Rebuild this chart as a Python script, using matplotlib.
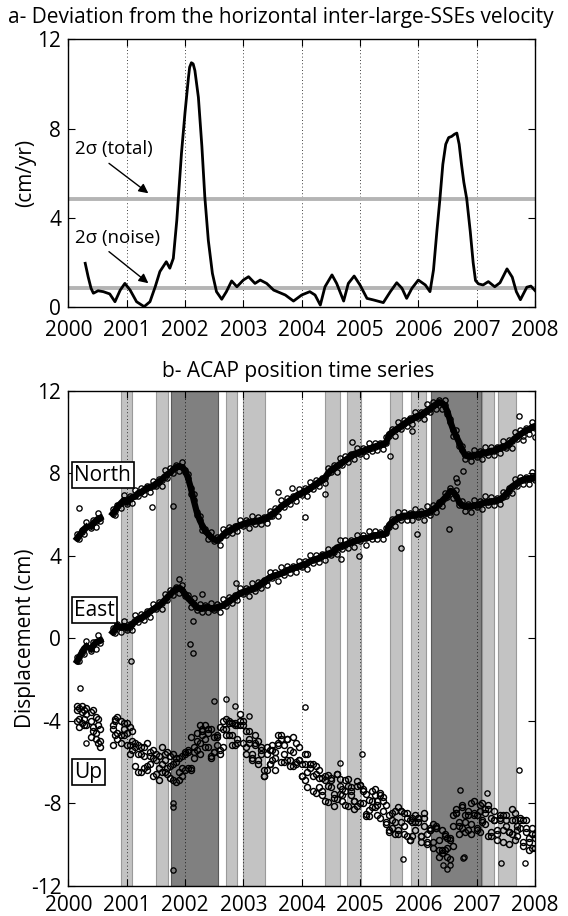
import numpy as np
import matplotlib
matplotlib.use('Agg')
import matplotlib.pyplot as plt

plt.rcParams['font.family'] = ['Open Sans', 'DejaVu Sans']
plt.rcParams['axes.unicode_minus'] = False

# ---------------- panel a data ----------------
dev_t = [2000.29, 2000.34, 2000.39, 2000.43, 2000.51, 2000.60, 2000.71, 2000.80, 2000.89, 2000.97,
         2001.06, 2001.17, 2001.30, 2001.40, 2001.49, 2001.57, 2001.68, 2001.74, 2001.80, 2001.86,
         2001.90, 2001.94, 2002.00, 2002.06, 2002.08, 2002.11, 2002.14, 2002.17, 2002.23, 2002.29,
         2002.34, 2002.40, 2002.47, 2002.54, 2002.63, 2002.71, 2002.80, 2002.89, 2003.00, 2003.09,
         2003.20, 2003.29, 2003.40, 2003.52, 2003.63, 2003.72, 2003.86, 2004.00, 2004.14, 2004.23,
         2004.32, 2004.40, 2004.52, 2004.60, 2004.72, 2004.80, 2004.90, 2005.00, 2005.12, 2005.23,
         2005.40, 2005.52, 2005.63, 2005.72, 2005.80, 2005.89, 2006.00, 2006.12, 2006.20, 2006.26,
         2006.32, 2006.37, 2006.42, 2006.47, 2006.52, 2006.57, 2006.62, 2006.66, 2006.70, 2006.74,
         2006.78, 2006.83, 2006.89, 2006.94, 2006.98, 2007.03, 2007.11, 2007.20, 2007.31, 2007.40,
         2007.52, 2007.61, 2007.68, 2007.75, 2007.86, 2007.93, 2008.00]
dev_v = [1.97, 1.37, 0.85, 0.63, 0.74, 0.70, 0.60, 0.25, 0.77, 1.07,
         0.77, 0.25, 0.03, 0.25, 0.92, 1.60, 2.04, 1.75, 2.19, 3.90,
         5.40, 6.90, 8.70, 10.30, 10.75, 10.95, 10.90, 10.60, 9.40, 7.20,
         4.95, 3.00, 1.52, 0.70, 0.36, 0.70, 1.18, 0.92, 1.22, 1.37,
         1.07, 1.22, 1.07, 0.77, 0.65, 0.55, 0.28, 0.55, 0.70, 0.55,
         0.10, 0.92, 1.45, 1.07, 0.28, 1.07, 1.40, 1.00, 0.40, 0.33,
         0.21, 0.70, 1.10, 0.85, 0.40, 0.85, 1.22, 1.00, 0.70, 1.67,
         3.46, 4.85, 6.40, 7.30, 7.60, 7.65, 7.75, 7.80, 7.30, 6.40,
         5.60, 4.85, 3.40, 2.00, 1.20, 1.05, 1.00, 1.15, 0.92, 1.10,
         1.72, 1.35, 0.70, 0.34, 0.90, 0.95, 0.75]
sigma_total = 4.85
sigma_noise = 0.86

# ---------------- panel b data ----------------
t_early = [2000.15, 2000.19, 2000.23, 2000.27, 2000.31, 2000.39, 2000.43, 2000.47, 2000.51, 2000.55,
           2000.76, 2000.80, 2000.84]
t_main = [2000.90, 2000.95,
    2001.00, 2001.05, 2001.10, 2001.15, 2001.20, 2001.25, 2001.30, 2001.35, 2001.40, 2001.45,
    2001.50, 2001.55, 2001.60, 2001.65, 2001.70, 2001.75, 2001.80, 2001.85, 2001.90, 2001.95,
    2002.00, 2002.05, 2002.10, 2002.15, 2002.20, 2002.25, 2002.30, 2002.35, 2002.40, 2002.45,
    2002.50, 2002.55, 2002.60, 2002.65, 2002.70, 2002.75, 2002.80, 2002.85, 2002.90, 2002.95,
    2003.00, 2003.05, 2003.10, 2003.15, 2003.20, 2003.25, 2003.30, 2003.35, 2003.40, 2003.45,
    2003.50, 2003.55, 2003.60, 2003.65, 2003.70, 2003.75, 2003.80, 2003.85, 2003.90, 2003.95,
    2004.00, 2004.05, 2004.10, 2004.15, 2004.20, 2004.25, 2004.30, 2004.35, 2004.40, 2004.45,
    2004.50, 2004.55, 2004.60, 2004.65, 2004.70, 2004.75, 2004.80, 2004.85, 2004.90, 2004.95,
    2005.00, 2005.05, 2005.10, 2005.15, 2005.20, 2005.25, 2005.30, 2005.35, 2005.40, 2005.45,
    2005.50, 2005.55, 2005.60, 2005.65, 2005.70, 2005.75, 2005.80, 2005.85, 2005.90, 2005.95,
    2006.00, 2006.05, 2006.10, 2006.15, 2006.20, 2006.25, 2006.30, 2006.35, 2006.40, 2006.45,
    2006.50, 2006.55, 2006.60, 2006.65, 2006.70, 2006.75, 2006.80, 2006.85, 2006.90, 2006.95,
    2007.00, 2007.05, 2007.10, 2007.15, 2007.20, 2007.25, 2007.30, 2007.35, 2007.40, 2007.45,
    2007.50, 2007.55, 2007.60, 2007.65, 2007.70, 2007.75, 2007.80, 2007.85, 2007.90, 2007.95,
    2008.00]

north = [4.85, 5.0, 5.15, 5.3, 5.4, 5.45, 5.6, 5.7, 5.8, 5.85, 6.05, 6.2, 6.35,
    6.55, 6.7,
    6.6, 6.75, 6.85, 6.9, 7.05, 7.1, 7.2, 7.3, 7.35, 7.4, 7.5, 7.6, 7.7, 7.85, 7.95, 8.05, 8.2, 8.3, 8.35, 8.3,
    8.15, 7.8, 7.3, 6.7, 6.15, 5.75, 5.45, 5.2, 5.05, 4.9, 4.8, 4.75, 4.85, 5.0, 5.15, 5.2, 5.3, 5.35, 5.45, 5.5,
    5.55, 5.6, 5.65, 5.65, 5.7, 5.7, 5.75, 5.8, 5.85, 5.95, 6.05, 6.15, 6.25, 6.4, 6.5, 6.6, 6.7, 6.8, 6.9, 7.0,
    7.05, 7.15, 7.2, 7.3, 7.4, 7.5, 7.6, 7.7, 7.8, 8.0, 8.15, 8.25, 8.35, 8.45, 8.55, 8.65, 8.75, 8.85, 8.95, 9.0,
    9.05, 9.1, 9.15, 9.2, 9.25, 9.3, 9.35, 9.4, 9.45, 9.5, 9.9, 10.0, 10.1, 10.2, 10.3, 10.4, 10.5, 10.6, 10.65, 10.75,
    10.8, 10.85, 10.95, 11.05, 11.15, 11.25, 11.35, 11.45, 11.4, 11.3, 11.0, 10.5, 10.1, 9.8, 9.5, 9.15, 8.9, 8.85, 8.85, 8.9,
    8.9, 8.95, 9.0, 9.0, 9.05, 9.1, 9.1, 9.2, 9.25, 9.3, 9.35, 9.45, 9.55, 9.7, 9.8, 9.9, 10.0, 10.1, 10.15, 10.25,
    10.3]
north_b = [5.05, 4.8, 5.25, 5.05, 5.65, 5.35, 5.75, 5.4, 6.1, 5.7, 6.25, 6.0, 6.45,
    6.3, 6.95,
    6.5, 6.9, 6.55, 7.2, 6.9, 7.3, 7.0, 7.4, 7.1, 7.65, 7.4, 7.75, 7.4, 8.15, 7.8, 8.25, 8.0, 8.4, 8.1, 8.55,
    8.05, 7.95, 7.0, 7.0, 6.0, 5.95, 5.25, 5.3, 4.8, 5.15, 4.7, 4.9, 4.55, 5.3, 5.0, 5.4, 5.1, 5.45, 5.2, 5.75,
    5.45, 5.75, 5.35, 5.95, 5.55, 5.9, 5.55, 5.9, 5.6, 6.2, 5.95, 6.3, 5.95, 6.7, 6.35, 6.8, 6.5, 6.9, 6.65, 7.25,
    6.95, 7.3, 6.9, 7.6, 7.25, 7.7, 7.4, 7.8, 7.55, 8.25, 8.05, 8.4, 8.05, 8.75, 8.4, 8.85, 8.55, 8.95, 8.7, 9.25,
    8.95, 9.25, 8.85, 9.5, 9.1, 9.5, 9.15, 9.5, 9.2, 9.75, 9.8, 10.15, 9.8, 10.5, 10.15, 10.6, 10.3, 10.7, 10.4, 11.0,
    10.7, 11.0, 10.65, 11.35, 11.0, 11.45, 11.15, 11.55, 11.15, 11.55, 10.9, 10.65, 9.8, 10.1, 9.35, 9.35, 8.7, 8.95, 8.6, 9.15,
    8.8, 9.1, 8.7, 9.3, 8.9, 9.3, 8.9, 9.3, 9.0, 9.55, 9.25, 9.6, 9.25, 10.0, 9.65, 10.1, 9.8, 10.2, 9.9, 10.5,
    10.2]

east = [-1.1, -0.9, -0.7, -0.5, -0.4, -0.5, -0.35, -0.2, -0.15, -0.1, 0.3, 0.45, 0.6,
    0.55, 0.6,
    0.5, 0.55, 0.7, 0.85, 0.95, 1.0, 1.1, 1.2, 1.3, 1.4, 1.5, 1.6, 1.7, 1.85, 2.0, 2.15, 2.3, 2.4, 2.45, 2.35,
    2.15, 1.95, 1.8, 1.65, 1.5, 1.45, 1.45, 1.5, 1.5, 1.45, 1.45, 1.5, 1.55, 1.6, 1.7, 1.8, 1.9, 2.0, 2.1, 2.2,
    2.25, 2.3, 2.35, 2.4, 2.45, 2.55, 2.65, 2.75, 2.85, 2.95, 3.0, 3.05, 3.1, 3.15, 3.2, 3.3, 3.35, 3.4, 3.45, 3.5,
    3.55, 3.6, 3.65, 3.75, 3.8, 3.85, 3.9, 4.0, 4.05, 4.1, 4.15, 4.2, 4.4, 4.45, 4.5, 4.55, 4.6, 4.65, 4.7, 4.75,
    4.8, 4.85, 4.85, 4.9, 4.95, 5.0, 5.0, 5.05, 5.05, 5.1, 5.5, 5.65, 5.75, 5.85, 5.9, 5.95, 5.95, 6.0, 6.0, 6.0,
    6.0, 6.05, 6.05, 6.1, 6.15, 6.25, 6.35, 6.5, 6.65, 6.8, 6.95, 7.15, 7.1, 6.9, 6.6, 6.45, 6.4, 6.4, 6.4, 6.45,
    6.45, 6.5, 6.55, 6.6, 6.6, 6.65, 6.65, 6.7, 6.75, 6.85, 7.0, 7.15, 7.35, 7.45, 7.55, 7.65, 7.7, 7.75, 7.75, 7.8,
    7.8]
east_b = [-0.9, -1.1, -0.6, -0.75, -0.15, -0.6, -0.2, -0.5, 0.15, -0.25, 0.5, 0.25, 0.7,
    0.3, 0.85,
    0.4, 0.7, 0.4, 1.15, 0.8, 1.2, 0.9, 1.3, 1.05, 1.65, 1.4, 1.75, 1.4, 2.15, 1.85, 2.35, 2.1, 2.5, 2.2, 2.6,
    2.05, 2.1, 1.5, 1.95, 1.35, 1.65, 1.25, 1.6, 1.25, 1.7, 1.35, 1.65, 1.25, 1.9, 1.55, 2.0, 1.7, 2.1, 1.85, 2.45,
    2.15, 2.45, 2.05, 2.7, 2.3, 2.75, 2.45, 2.85, 2.6, 3.2, 2.9, 3.2, 2.8, 3.45, 3.05, 3.5, 3.15, 3.5, 3.2, 3.75,
    3.45, 3.75, 3.35, 4.05, 3.65, 4.05, 3.7, 4.1, 3.8, 4.35, 4.05, 4.35, 4.1, 4.75, 4.35, 4.75, 4.4, 4.75, 4.45, 5.0,
    4.7, 5.0, 4.55, 5.2, 4.8, 5.2, 4.8, 5.15, 4.8, 5.35, 5.4, 5.8, 5.45, 6.15, 5.75, 6.15, 5.75, 6.1, 5.75, 6.25,
    5.9, 6.2, 5.75, 6.4, 6.0, 6.45, 6.15, 6.6, 6.4, 7.05, 6.85, 7.3, 6.8, 7.2, 6.45, 6.65, 6.2, 6.5, 6.15, 6.7,
    6.35, 6.65, 6.25, 6.9, 6.45, 6.85, 6.45, 6.8, 6.5, 7.1, 6.9, 7.3, 7.05, 7.75, 7.4, 7.85, 7.5, 7.85, 7.5, 8.05,
    7.7]

up_a = [-3.3, -3.9, -3.6, -4.2, -3.4, -4.0, -3.5, -4.9, -4.2, -4.4, -4.2, -4.7, -3.8,
    -4.0, -4.7,
    -4.1, -5.2, -5.0, -6.2, -5.6, -5.3, -6.3, -5.1, -6.1, -5.8, -6.6, -5.7, -6.1, -6.5, -5.5, -6.8, -6.1, -7.0, -5.8, -6.3,
    -5.6, -6.3, -4.8, -5.5, -5.0, -5.6, -4.4, -4.9, -5.3, -4.4, -5.5, -4.7, -5.6, -4.4, -4.7, -4.0, -4.7, -4.1, -5.1, -4.2,
    -5.1, -4.5, -5.1, -5.6, -4.7, -6.1, -5.6, -6.7, -5.6, -6.1, -5.2, -5.8, -5.1, -6.0, -5.2, -4.9, -5.9, -4.8, -6.0, -5.9,
    -6.7, -6.1, -7.2, -6.1, -6.7, -6.2, -7.2, -6.8, -7.9, -7.15, -6.8, -7.75, -6.6, -7.55, -7.3, -8.1, -7.15, -7.6, -7.9, -6.95,
    -7.1, -8.0, -7.55, -8.65, -7.9, -7.6, -8.6, -7.5, -8.4, -8.1, -9.4, -8.5, -8.9, -9.3, -8.4, -9.5, -8.7, -9.8, -8.7, -9.3,
    -8.7, -9.6, -8.5, -9.5, -9.3, -10.2, -9.2, -9.8, -10.3, -9.5, -10.6, -9.7, -10.1, -8.5, -8.9, -8.1, -8.9, -8.4, -9.5, -8.6,
    -9.3, -8.4, -8.8, -9.0, -8.1, -9.4, -8.8, -9.8, -8.7, -9.3, -8.6, -9.4, -8.8, -9.8, -9.1, -8.8, -9.9, -8.8, -9.7, -9.5,
    -9.5]
up_b = [-4.0, -3.4, -4.1, -3.5, -4.2, -4.8, -4.5, -3.8, -5.1, -5.0, -5.2, -3.9, -4.6,
    -4.7, -4.1,
    -5.2, -4.3, -5.4, -5.1, -6.5, -5.6, -5.3, -6.2, -5.5, -6.7, -5.9, -6.3, -5.3, -5.9, -6.6, -5.7, -6.9, -6.0, -6.5, -5.7,
    -6.4, -5.4, -6.3, -5.3, -5.4, -4.2, -4.5, -5.3, -4.4, -5.7, -4.8, -5.2, -4.3, -5.3, -3.9, -4.7, -4.1, -5.2, -4.2, -3.7,
    -4.2, -5.3, -4.5, -5.9, -5.2, -5.9, -5.3, -6.4, -5.3, -6.1, -5.4, -6.4, -5.2, -4.7, -5.6, -4.9, -6.2, -5.5, -6.1, -5.3,
    -6.7, -5.6, -6.5, -6.1, -7.4, -6.6, -6.4, -7.4, -6.7, -7.95, -7.2, -7.55, -6.6, -7.15, -7.9, -6.9, -8.15, -7.4, -7.9, -7.15,
    -8.0, -7.3, -8.55, -7.85, -8.2, -7.3, -7.9, -8.7, -7.7, -8.9, -8.6, -9.2, -8.4, -9.5, -8.4, -9.1, -8.5, -9.8, -8.9, -8.6,
    -8.9, -9.6, -8.7, -10.0, -9.3, -9.9, -9.1, -10.3, -9.3, -10.3, -9.7, -10.7, -9.1, -8.3, -9.1, -8.2, -9.4, -8.6, -9.0, -7.9,
    -9.2, -8.1, -8.9, -8.3, -9.6, -8.7, -8.4, -9.3, -8.6, -9.9, -9.1, -9.4, -8.3, -8.8, -9.6, -8.7, -10.1, -9.4, -9.9, -9.2,
    -10.2]
up_c = [-3.5, -4.3, -3.3, -3.9, -3.7, -3.6, -4.3, -4.6, -3.9, -5.3, -4.4, -4.0, -4.9,
    -5.1, -4.4,
    -4.6, -5.6, -4.5, -5.3, -5.2, -6.5, -5.7, -6.4, -5.7, -5.4, -5.6, -6.9, -6.5, -5.6, -6.3, -6.2, -5.6, -5.8, -6.9, -6.7,
    -5.5, -5.5, -6.4, -5.8, -4.6, -5.1, -4.7, -4.2, -4.6, -5.8, -5.5, -4.8, -5.4, -4.0, -4.4, -4.1, -5.2, -4.2, -4.9, -4.0,
    -4.0, -5.6, -4.9, -5.8, -5.1, -5.0, -5.4, -6.7, -6.4, -5.4, -5.9, -5.5, -4.7, -4.9, -6.0, -5.9, -5.4, -6.2, -5.1, -5.9,
    -6.1, -6.9, -5.6, -6.3, -6.1, -7.5, -6.8, -7.6, -6.9, -6.65, -6.9, -8.15, -7.8, -6.85, -7.6, -7.4, -6.85, -7.2, -8.3, -8.15,
    -7.1, -7.4, -8.65, -8.35, -7.4, -8.2, -8.1, -7.6, -7.9, -9.0, -9.3, -8.8, -9.5, -8.2, -8.9, -8.5, -9.6, -8.8, -9.6, -8.9,
    -8.7, -9.9, -9.1, -9.9, -9.2, -9.0, -9.2, -10.6, -10.4, -9.6, -10.2, -9.8, -8.6, -8.5, -9.5, -9.2, -8.6, -9.3, -8.0, -8.5,
    -8.6, -9.4, -8.0, -8.5, -8.3, -9.6, -8.8, -9.5, -8.8, -8.6, -8.8, -10.0, -9.5, -8.5, -9.3, -9.2, -8.8, -9.2, -10.3, -10.2,
    -9.7]

north_out_t = [2000.18, 2001.43, 2001.80, 2003.60, 2003.83, 2004.05, 2004.40, 2004.83, 2004.86, 2005.52, 2005.90, 2006.77, 2007.73, 2007.80, 2008.00]
north_out_v = [6.3, 6.35, 6.42, 7.1, 7.3, 5.9, 7.0, 8.9, 9.53, 8.86, 10.07, 8.13, 10.78, 9.6, 9.75]
east_out_t = [2001.07, 2001.89, 2002.09, 2002.13, 2002.13, 2002.30, 2002.87, 2004.67, 2004.98, 2005.71, 2005.97, 2006.52, 2006.65, 2006.66]
east_out_v = [-1.1, 2.88, -0.29, -0.74, 0.86, 2.14, 2.69, 3.84, 4.0, 4.4, 5.06, 5.3, 7.8, 7.6]
up_out_t = [2000.20, 2000.30, 2001.80, 2001.80, 2001.80, 2002.50, 2002.70, 2002.85, 2003.09, 2004.05, 2004.66, 2005.03,
            2005.73, 2006.43, 2006.50, 2006.55, 2006.71, 2006.77, 2006.79, 2007.18, 2007.41, 2007.73, 2007.83]
up_out_v = [-2.4, -5.1, -8.0, -8.2, -11.25, -3.04, -2.93, -3.3, -3.75, -3.33, -6.05, -5.6,
            -10.7, -11.0, -11.2, -11.0, -7.35, -10.67, -10.6, -7.5, -10.9, -6.41, -10.9]

light_bands = [(2000.90, 2001.09), (2001.50, 2001.715), (2002.71, 2002.90), (2003.00, 2003.37),
               (2004.40, 2004.65), (2004.78, 2005.02), (2005.52, 2005.72), (2005.88, 2006.13),
               (2007.10, 2007.30), (2007.37, 2007.68)]
dark_bands = [(2001.76, 2002.56), (2006.21, 2007.07)]

years = list(range(2000, 2009))

# ---------------- figure ----------------
W, H = 568, 916
fig = plt.figure(figsize=(W / 100, H / 100), dpi=100)
left = 68.3 / W
width = 466.7 / W
ax1 = fig.add_axes([left, 1 - 307.3 / H, width, 268 / H])
ax2 = fig.add_axes([left, 1 - 885.5 / H, width, 494.5 / H])

FS = 15
for ax in (ax1, ax2):
    ax.set_xlim(2000, 2008)
    ax.set_xticks(years)
    ax.set_xticklabels([str(y) for y in years], fontsize=FS)
    ax.tick_params(direction='in', top=True, right=True, length=5, width=0.8)
    ax.tick_params(axis='y', pad=5)
    ax.xaxis.grid(True, linestyle=(0, (1, 3)), color='k', linewidth=0.6)
    for s in ax.spines.values():
        s.set_linewidth(1.0)
ax1.tick_params(axis='x', pad=9)
ax2.tick_params(axis='x', pad=7)

# panel a
ax1.set_ylim(0, 12)
ax1.set_yticks([0, 4, 8, 12])
ax1.set_yticklabels(['0', '4', '8', '12'], fontsize=FS)
ax1.axhline(sigma_total, color='#b4b4b4', lw=2.8, zorder=2)
ax1.axhline(sigma_noise, color='#b4b4b4', lw=2.8, zorder=2)
ax1.plot(dev_t, dev_v, color='k', lw=2.0, zorder=3, solid_joinstyle='round')
ax1.set_ylabel('(cm/yr)', fontsize=FS)
ax1.yaxis.set_label_coords(-0.069, 0.5)
ax1.text(2000.11, 7.07, '2σ (total)', fontsize=13.5, ha='left', va='center')
ax1.annotate('', xy=(2001.41, 5.03), xytext=(2000.66, 6.52),
             arrowprops=dict(arrowstyle='-|>', color='k', lw=1.0, mutation_scale=14))
ax1.text(2000.11, 3.1, '2σ (noise)', fontsize=13.5, ha='left', va='center')
ax1.annotate('', xy=(2001.41, 1.0), xytext=(2000.66, 2.57),
             arrowprops=dict(arrowstyle='-|>', color='k', lw=1.0, mutation_scale=14))
fig.text(281 / W, 1 - 17 / H, 'a- Deviation from the horizontal inter-large-SSEs velocity',
         fontsize=FS, ha='center', va='center')

# panel b
ax2.set_ylim(-12, 12)
yt = [-12, -8, -4, 0, 4, 8, 12]
ax2.set_yticks(yt)
ax2.set_yticklabels([str(v) for v in yt], fontsize=FS)
ax2.set_ylabel('Displacement (cm)', fontsize=FS)
ax2.yaxis.set_label_coords(-0.069, 0.5)
for s, e in light_bands:
    ax2.axvspan(s, e, facecolor='#c3c3c3', edgecolor='#9a9a9a', lw=0.8, zorder=0)
for s, e in dark_bands:
    ax2.axvspan(s, e, facecolor='#808080', edgecolor='#5a5a5a', lw=0.8, zorder=0)

t_all = np.array(t_early + t_main)
gap = np.r_[False, np.diff(t_all) > 0.06]

def with_gaps(vals):
    v = np.array(vals, dtype=float)
    tt, vv = [], []
    for i in range(len(t_all)):
        if gap[i]:
            tt.append(np.nan); vv.append(np.nan)
        tt.append(t_all[i]); vv.append(v[i])
    return tt, vv

mk = dict(marker='o', ms=3.8, mfc='none', mec='k', mew=0.95, ls='none', zorder=3)
mk_up = dict(mk, ms=4.3, mew=1.05)
for series, series_b in ((north, north_b), (east, east_b)):
    tt, vv = with_gaps(series)
    ax2.plot(tt, vv, color='k', lw=4.5, zorder=3)
    ax2.plot(t_all, series, **mk)
    ax2.plot(t_all, series_b, **mk)
for series in (up_a, up_b, up_c):
    ax2.plot(t_all, series, **mk_up)
ax2.plot(north_out_t, north_out_v, **mk)
ax2.plot(east_out_t, east_out_v, **mk)
ax2.plot(up_out_t, up_out_v, **mk)

box = dict(boxstyle='square,pad=0.12', fc='white', ec='k', lw=1.2)
ax2.text(2000.10, 7.92, 'North', fontsize=FS, ha='left', va='center', bbox=box, zorder=5)
ax2.text(2000.10, 1.35, 'East', fontsize=FS, ha='left', va='center', bbox=box, zorder=5)
ax2.text(2000.10, -6.5, 'Up', fontsize=FS, ha='left', va='center', bbox=box, zorder=5)
fig.text(298 / W, 1 - 371 / H, 'b- ACAP position time series', fontsize=FS, ha='center', va='center')

fig.savefig('out.png', dpi=100)
